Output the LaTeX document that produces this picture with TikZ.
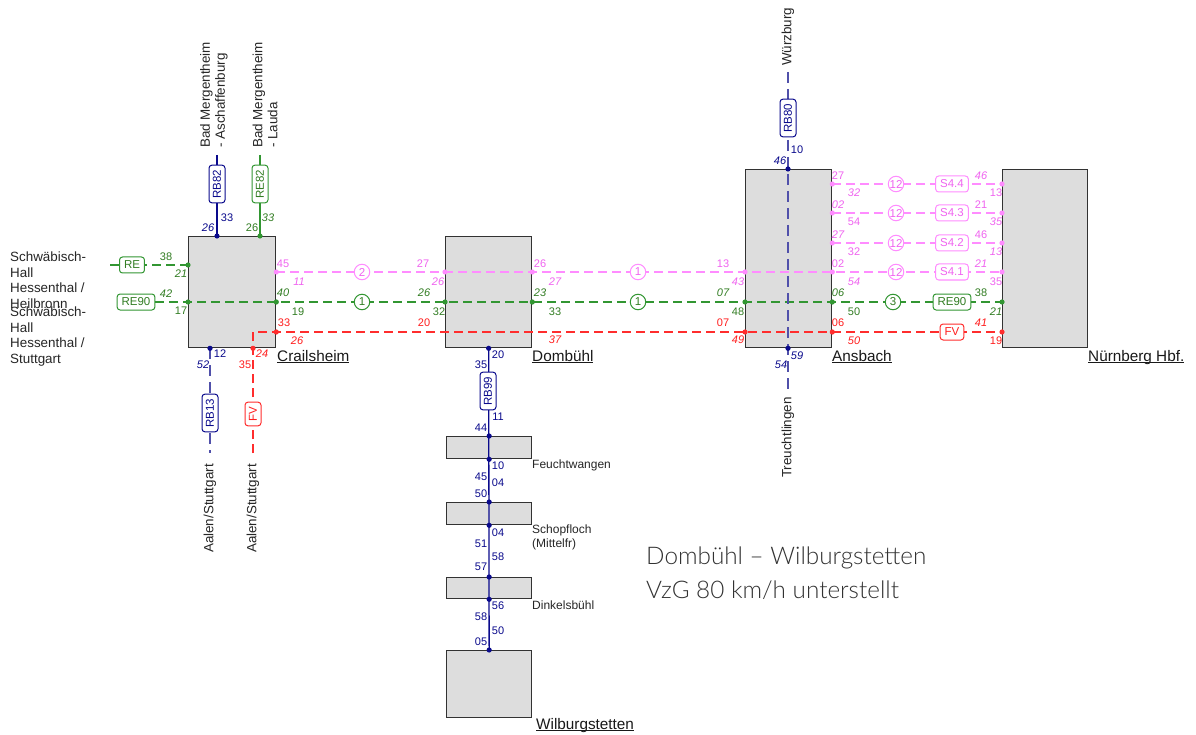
\documentclass[tikz,border=0pt]{standalone}
\usepackage{fontspec}
\setmainfont{Liberation Sans}
\newfontfamily\notefont{Lato Light}
\definecolor{pinkL}{RGB}{255,140,255}
\definecolor{pinkT}{RGB}{240,100,240}
\definecolor{greenL}{RGB}{50,150,50}
\definecolor{greenT}{RGB}{50,125,35}
\definecolor{redL}{RGB}{255,45,45}
\definecolor{redT}{RGB}{255,30,30}
\definecolor{navyL}{RGB}{10,10,140}
\definecolor{violL}{RGB}{80,80,170}
\definecolor{boxF}{RGB}{221,221,221}
\definecolor{boxD}{RGB}{50,50,50}
\definecolor{noteC}{RGB}{50,50,50}
\newcounter{labc}
\newcommand\numlab[4]{\stepcounter{labc}\node[num,#1] (lab\number\value{labc}) at (#2,#3) {#4};}
\newcommand\dotat[2]{\fill[#1] (#2) circle (2.6pt);}
\newcommand\mystul[1]{\setbox0\hbox{#1}\rlap{\rule[-1.8pt]{\wd0}{0.9pt}}\box0}
\tikzset{
  stbox/.style={draw=boxD, fill=boxF, line width=1.3pt, inner sep=0pt, anchor=north west},
  num/.style={font=\fontsize{11}{12}\selectfont, inner sep=0pt},
  it/.style={font=\fontsize{11}{12}\selectfont\itshape},
  pk/.style={text=pinkT}, gr/.style={text=greenT}, rd/.style={text=redT}, nv/.style={text=navyL},
  pinkline/.style={draw=pinkL, line width=1.3pt, dash pattern=on 9pt off 5pt},
  greenline/.style={draw=greenL, line width=1.3pt, dash pattern=on 9pt off 5pt},
  redline/.style={draw=redL, line width=1.3pt, dash pattern=on 9pt off 5pt},
  navysolid/.style={draw=navyL, line width=1.3pt},
  greensolid/.style={draw=greenL, line width=1.3pt},
  violdash/.style={draw=violL, line width=1.3pt, dash pattern=on 11pt off 6pt},
  tag/.style={draw, fill=white, rounded corners=3pt, line width=1pt, inner xsep=4.5pt, inner ysep=0pt, minimum height=16pt, font=\fontsize{11.5}{12}\selectfont},
  ring/.style={circle, draw, fill=white, line width=1pt, minimum size=15.5pt, inner sep=0pt, font=\fontsize{11.5}{12}\selectfont},
  rotlab/.style={rotate=90, inner sep=0pt, font=\fontsize{13.4}{15}\selectfont, text=black!85},
  leftlab/.style={inner sep=0pt, align=left, font=\fontsize{13.4}{15.5}\selectfont, text=black!85, anchor=north west},
  stname/.style={inner sep=0pt, font=\fontsize{15.3}{18}\selectfont, text=black!90, anchor=base west},
  smallst/.style={inner sep=0pt, font=\fontsize{12}{14}\selectfont, text=black!85},
  note/.style={inner sep=0pt, font=\notefont\fontsize{24.3}{28}\selectfont, text=noteC, anchor=west}
}
\begin{document}
\begin{tikzpicture}[x=1pt,y=-1pt]
\useasboundingbox (0,0) rectangle (1196,735);
\fill[white] (0,0) rectangle (1196,735);
% station boxes
\node[stbox, minimum width=87pt, minimum height=111pt] (crl) at (188,236) {};
\node[stbox, minimum width=86pt, minimum height=111pt] (dom) at (445,236) {};
\node[stbox, minimum width=86pt, minimum height=178pt] (ans) at (745,169) {};
\node[stbox, minimum width=85pt, minimum height=178pt] (nbg) at (1002,169) {};
\node[stbox, minimum width=85pt, minimum height=22pt] (feu) at (446,436) {};
\node[stbox, minimum width=85pt, minimum height=22pt] (sch) at (446,502) {};
\node[stbox, minimum width=85pt, minimum height=21pt] (din) at (446,577) {};
\node[stbox, minimum width=85pt, minimum height=67pt] (wil) at (446,650) {};
% free ends
\coordinate (restart) at (110,265);
\coordinate (re90start) at (155,302);
\coordinate (rb82top) at (217,155);
\coordinate (re82top) at (260,155);
\coordinate (rb13bot) at (210,453);
\coordinate (fvbot) at (253,453);
\coordinate (rb80top) at (788,72);
\coordinate (rb80bot) at (788,392);
% horizontal lines
\draw[greenline] (restart) -- (crl.west|-0,265);
\draw[greenline] (re90start) -- (nbg.west|-0,302);
\draw[pinkline] (crl.east|-0,272) -- (nbg.west|-0,272);
\draw[redline] (fvbot) -- (fvbot|-0,332) -- (nbg.west|-0,332);
\foreach \yy in {184,213,243} \draw[pinkline] (ans.east|-0,\yy) -- (nbg.west|-0,\yy);
% vertical lines
\draw[navysolid] (rb82top) -- (crl.north-|rb82top);
\draw[greensolid] (re82top) -- (crl.north-|re82top);
\draw[violdash] (crl.south-|rb13bot) -- (rb13bot);
\draw[violdash] (rb80top) -- (rb80bot);
\draw[navysolid] (dom.south) -- (wil.north);
% dots
\dotat{greenL}{crl.west|-0,265}
\dotat{greenL}{crl.west|-0,302}
\dotat{greenL}{crl.east|-0,302}
\dotat{pinkL}{crl.east|-0,272}
\dotat{redL}{crl.east|-0,332}
\dotat{redL}{crl.south-|fvbot}
\dotat{navyL}{crl.south-|rb13bot}
\dotat{navyL}{crl.north-|rb82top}
\dotat{greenL}{crl.north-|re82top}
\dotat{pinkL}{dom.west|-0,272}
\dotat{pinkL}{dom.east|-0,272}
\dotat{greenL}{dom.west|-0,302}
\dotat{greenL}{dom.east|-0,302}
\dotat{navyL}{dom.south}
\dotat{navyL}{feu.north}
\dotat{navyL}{feu.south}
\dotat{navyL}{sch.north}
\dotat{navyL}{sch.south}
\dotat{navyL}{din.north}
\dotat{navyL}{din.south}
\dotat{navyL}{wil.north}
\dotat{pinkL}{ans.west|-0,272}
\dotat{greenL}{ans.west|-0,302}
\dotat{redL}{ans.west|-0,332}
\dotat{navyL}{ans.north-|rb80top}
\dotat{navyL}{ans.south-|rb80top}
\foreach \yy in {184,213,243,272} {\dotat{pinkL}{ans.east|-0,\yy}\dotat{pinkL}{nbg.west|-0,\yy}}
\dotat{greenL}{ans.east|-0,302}
\dotat{redL}{ans.east|-0,332}
\dotat{greenL}{nbg.west|-0,302}
\dotat{redL}{nbg.west|-0,332}
% tags
\node[tag, draw=greenL, text=greenT] (tre) at (132,265) {RE};
\node[tag, draw=greenL, text=greenT] (tre90l) at (136,302) {RE90};
\node[tag, rotate=90, draw=navyL, text=navyL] (trb82) at (217,184) {RB82};
\node[tag, rotate=90, draw=greenL, text=greenT] (tre82) at (260,184) {RE82};
\node[tag, rotate=90, draw=navyL, text=navyL] (trb13) at (210,413) {RB13};
\node[tag, rotate=90, draw=redL, text=redT] (tfvl) at (253,414) {FV};
\node[tag, rotate=90, draw=navyL, text=navyL] (trb80) at (788,118) {RB80};
\node[tag, rotate=90, draw=navyL, text=navyL] (trb99) at (488,391) {RB99};
\node[tag, draw=pinkL, text=pinkT] (ts44) at (952,184) {S4.4};
\node[tag, draw=pinkL, text=pinkT] (ts43) at (952,213) {S4.3};
\node[tag, draw=pinkL, text=pinkT] (ts42) at (952,243) {S4.2};
\node[tag, draw=pinkL, text=pinkT] (ts41) at (952,272) {S4.1};
\node[tag, draw=greenL, text=greenT] (tre90r) at (952,302) {RE90};
\node[tag, draw=redL, text=redT] (tfvr) at (952,332) {FV};
% rings
\node[ring, draw=pinkL, text=pinkT] (r1) at (362,272) {2};
\node[ring, draw=greenL, text=greenT] (r2) at (362,302) {1};
\node[ring, draw=pinkL, text=pinkT] (r3) at (638,272) {1};
\node[ring, draw=greenL, text=greenT] (r4) at (638,302) {1};
\node[ring, draw=pinkL, text=pinkT] (r5) at (896,184) {12};
\node[ring, draw=pinkL, text=pinkT] (r6) at (896,213) {12};
\node[ring, draw=pinkL, text=pinkT] (r7) at (896,243) {12};
\node[ring, draw=pinkL, text=pinkT] (r8) at (896,272) {12};
\node[ring, draw=greenL, text=greenT] (r9) at (893,302) {3};
% numbers
\numlab{gr}{166}{257}{38}
\numlab{gr,it}{181}{274}{21}
\numlab{gr,it}{166}{294}{42}
\numlab{gr}{181}{311}{17}
\numlab{nv}{227}{218}{33}
\numlab{nv,it}{208}{228}{26}
\numlab{gr,it}{268}{218}{33}
\numlab{gr}{252}{228}{26}
\numlab{nv}{220}{354}{12}
\numlab{nv,it}{203}{365}{52}
\numlab{rd,it}{262}{354}{24}
\numlab{rd}{245}{365}{35}
\numlab{pk}{283}{264}{45}
\numlab{pk,it}{299}{282}{11}
\numlab{gr,it}{283}{293}{40}
\numlab{gr}{298}{312}{19}
\numlab{rd}{284}{323}{33}
\numlab{rd,it}{297}{341}{26}
\numlab{pk}{423}{264}{27}
\numlab{pk,it}{438}{282}{26}
\numlab{gr,it}{424}{293}{26}
\numlab{gr}{439}{312}{32}
\numlab{rd}{424}{323}{20}
\numlab{pk}{540}{264}{26}
\numlab{pk,it}{555}{282}{27}
\numlab{gr,it}{540}{293}{23}
\numlab{gr}{555}{312}{33}
\numlab{rd,it}{555}{340}{37}
\numlab{pk}{723}{264}{13}
\numlab{pk,it}{738}{282}{43}
\numlab{gr,it}{723}{293}{07}
\numlab{gr}{738}{312}{48}
\numlab{rd}{723}{323}{07}
\numlab{rd,it}{738}{340}{49}
% Ansbach - Nuernberg
\numlab{pk}{838}{176}{27}
\numlab{pk,it}{854}{193}{32}
\numlab{pk,it}{981}{176}{46}
\numlab{pk}{996}{193}{13}
\numlab{pk,it}{838}{205}{02}
\numlab{pk}{854}{222}{54}
\numlab{pk}{981}{205}{21}
\numlab{pk,it}{996}{222}{35}
\numlab{pk,it}{838}{235}{27}
\numlab{pk}{854}{252}{32}
\numlab{pk}{981}{235}{46}
\numlab{pk,it}{996}{252}{13}
\numlab{pk}{838}{264}{02}
\numlab{pk,it}{854}{282}{54}
\numlab{pk,it}{981}{264}{21}
\numlab{pk}{996}{282}{35}
\numlab{gr,it}{838}{293}{06}
\numlab{gr}{854}{312}{50}
\numlab{gr}{981}{293}{38}
\numlab{gr,it}{996}{312}{21}
\numlab{rd}{838}{323}{06}
\numlab{rd,it}{854}{341}{50}
\numlab{rd,it}{981}{323}{41}
\numlab{rd}{996}{341}{19}
% Ansbach vertical
\numlab{nv}{797}{150}{10}
\numlab{nv,it}{780}{161}{46}
\numlab{nv,it}{797}{356}{59}
\numlab{nv,it}{781}{365}{54}
% Dombuehl vertical
\numlab{nv}{498}{355}{20}
\numlab{nv}{481}{365}{35}
\numlab{nv}{498}{417}{11}
\numlab{nv}{481}{428}{44}
\numlab{nv}{498}{466}{10}
\numlab{nv}{481}{477}{45}
\numlab{nv}{498}{483}{04}
\numlab{nv}{481}{494}{50}
\numlab{nv}{498}{533}{04}
\numlab{nv}{481}{544}{51}
\numlab{nv}{498}{557}{58}
\numlab{nv}{481}{567}{57}
\numlab{nv}{498}{606}{56}
\numlab{nv}{481}{617}{58}
\numlab{nv}{498}{631}{50}
\numlab{nv}{481}{642}{05}
% texts
\node[leftlab] (ll1) at (10,252) {Schwäbisch-\\Hall\\Hessenthal /\\Heilbronn};
\node[leftlab] (ll2) at (10,307) {Schwäbisch-\\Hall\\Hessenthal /\\Stuttgart};
\node[rotlab, anchor=west, align=left] (bm1) at (214,148) {Bad Mergentheim\\- Aschaffenburg};
\node[rotlab, anchor=west, align=left] (bm2) at (265,148) {Bad Mergentheim\\- Lauda};
\node[rotlab, anchor=east] (aa1) at (210,464) {Aalen/Stuttgart};
\node[rotlab, anchor=east] (aa2) at (253,464) {Aalen/Stuttgart};
\node[rotlab, anchor=west] (wue) at (788,66) {Würzburg};
\node[rotlab, anchor=east] (tre2) at (788,397) {Treuchtlingen};
\node[stname] (ncrl) at (277,361) {\mystul{Crailsheim}};
\node[stname] (ndom) at (532,361) {\mystul{Dombühl}};
\node[stname] (nans) at (832,361) {\mystul{Ansbach}};
\node[stname] (nnbg) at (1088,361) {\mystul{Nürnberg Hbf.}};
\node[stname] (nwil) at (536,729) {\mystul{Wilburgstetten}};
\node[smallst, anchor=west] (nfeu) at (532,465) {Feuchtwangen};
\node[smallst, anchor=north west, align=left] (nsch) at (532,525) {Schopfloch\\(Mittelfr)};
\node[smallst, anchor=west] (ndin) at (532,605) {Dinkelsbühl};
\node[note] (note1) at (646,558) {Dombühl – Wilburgstetten};
\node[note] (note2) at (646,590) {VzG 80 km/h unterstellt};
\end{tikzpicture}
\end{document}
